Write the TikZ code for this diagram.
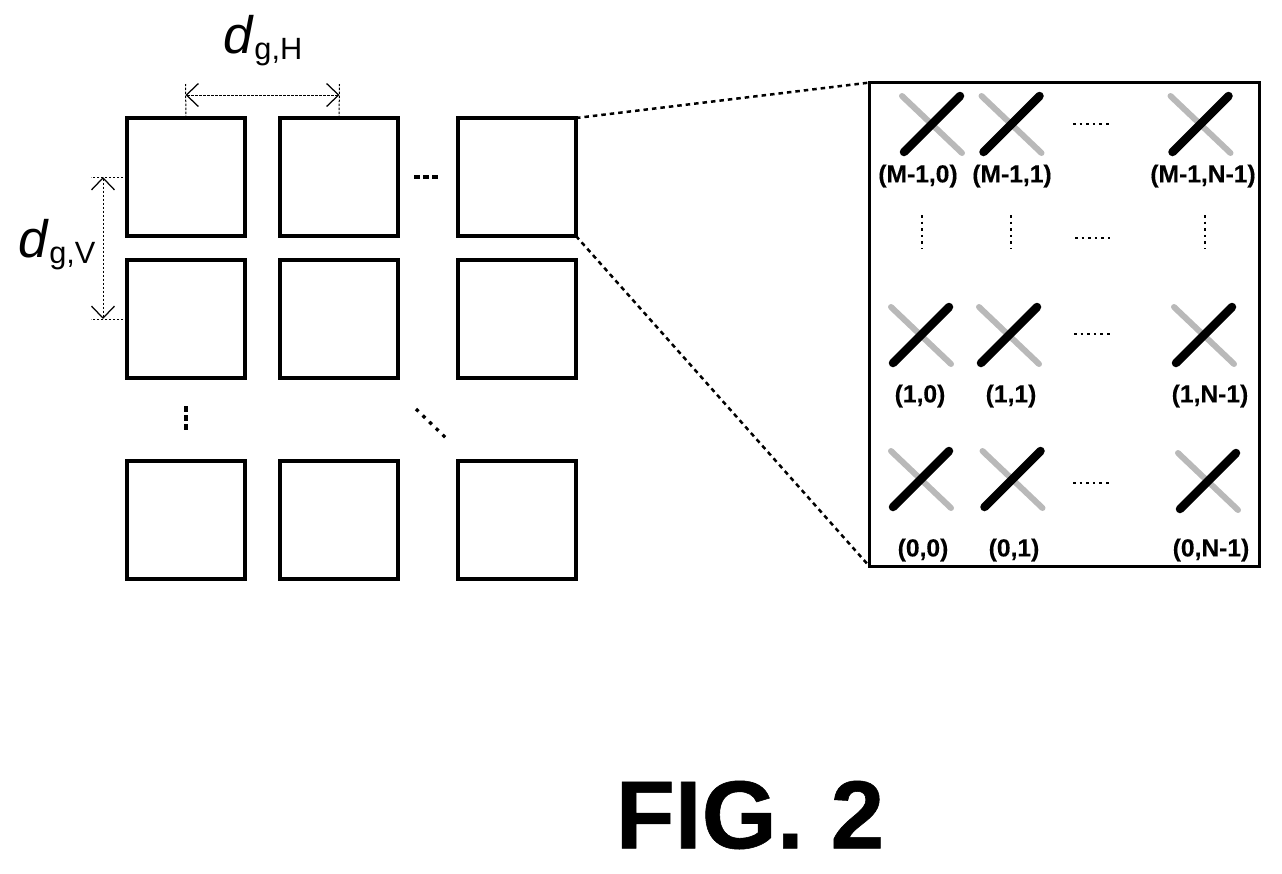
\documentclass[tikz,border=0pt]{standalone}
\usepackage{fontspec}
\setmainfont{Liberation Sans}
\newfontfamily\heavyfont[FakeBold=0.6]{Liberation Sans Bold}
\newfontfamily\labelfont[FakeBold=0.3]{Liberation Sans Bold}
\usetikzlibrary{arrows.meta,calc}
\tikzset{
    tile/.style={draw=black,line width=0.07cm,minimum size=2.36cm,inner sep=0pt,outer sep=0pt},
    panel/.style={draw=black,line width=0.07cm,minimum width=7.8cm,minimum height=9.68cm,inner sep=0pt,outer sep=0pt},
    dim/.style={line width=0.02cm,dash pattern=on 0.05cm off 0.03cm},
    dimtip/.style={dim,{Straight Barb[length=0.24cm,width=0.46cm,line width=0.025cm]}-{Straight Barb[length=0.24cm,width=0.46cm,line width=0.025cm]}},
    leader/.style={line width=0.05cm,dash pattern=on 0.09cm off 0.08cm},
    rowdots/.style={line width=0.07cm,dash pattern=on 0.12cm off 0.065cm},
    coldots/.style={line width=0.08cm,dash pattern=on 0.11cm off 0.07cm},
    diagdots/.style={line width=0.065cm,dash pattern=on 0.07cm off 0.115cm},
    tinydots/.style={line width=0.05cm,dash pattern=on 0.05cm off 0.082cm},
    elemlabel/.style={font=\fontsize{14}{16}\labelfont,inner sep=0pt},
    elem/.pic={
        \draw[gray!55,line width=0.12cm,line cap=round] (-30,-28) -- (30,29);
        \draw[black,line width=0.17cm,line cap=round] (-28,28) -- (28,-28);
    }
}
\newcommand{\bigd}[1]{{\fontsize{30}{30}\selectfont\textit{d}}{\fontsize{17.5}{18}\selectfont\raisebox{-3.4pt}{g,#1}}}
\begin{document}
\begin{tikzpicture}[x=0.02cm,y=-0.02cm]
    \useasboundingbox (0,0) rectangle (1282,873);
    % antenna panels
    \node[tile] (a11) at (186,177) {};
    \node[tile] (a12) at (339,177) {};
    \node[tile] (a13) at (517,177) {};
    \node[tile] (a21) at (186,319) {};
    \node[tile] (a22) at (339,319) {};
    \node[tile] (a23) at (517,319) {};
    \node[tile] (a31) at (186,520) {};
    \node[tile] (a32) at (339,520) {};
    \node[tile] (a33) at (517,520) {};
    % horizontal spacing
    \coordinate (hl) at (185.5,95);
    \coordinate (hr) at (339.5,95);
    \draw[dimtip] (hl) -- (hr);
    \draw[dim] (a11.north) -- (185.5,84);
    \draw[dim] (a12.north) -- (339.5,84);
    \node (dH) at (263,41) {\bigd{H}};
    % vertical spacing
    \coordinate (vt) at (103,177);
    \coordinate (vb) at (103,319);
    \draw[dimtip] (vt) -- (vb);
    \draw[dim] (a11.west) -- (91,177);
    \draw[dim] (a21.west) -- (91,319);
    \node (dV) at (57,245) {\bigd{V}};
    % dots between panels
    \coordinate (d1) at (414,177);
    \coordinate (d2) at (439,177);
    \coordinate (d3) at (186,406);
    \coordinate (d4) at (186,431);
    \coordinate (d5) at (416,409);
    \coordinate (d6) at (446,438);
    \draw[rowdots] (d1) -- (d2);
    \draw[coldots] (d3) -- (d4);
    \draw[diagdots] (d5) -- (d6);
    % enlarged panel
    \node[panel] (zoom) at (1064.5,324.5) {};
    \draw[leader] (a13.north east) -- (zoom.north west);
    \draw[leader] (a13.south east) -- (zoom.south west);
    % elements
    \pic at (932,124) {elem};
    \pic at (1011.5,124) {elem};
    \pic at (1200.5,124) {elem};
    \pic at (921,335) {elem};
    \pic at (1009,335) {elem};
    \pic at (1204,335) {elem};
    \pic at (921,479) {elem};
    \pic at (1012.5,479) {elem};
    \pic at (1208,481) {elem};
    \node[elemlabel] (e1) at (918,176) {(M-1,0)};
    \node[elemlabel] (e2) at (1012,176) {(M-1,1)};
    \node[elemlabel] (e3) at (1203,176) {(M-1,N-1)};
    \node[elemlabel] (e4) at (920,396) {(1,0)};
    \node[elemlabel] (e5) at (1011,396) {(1,1)};
    \node[elemlabel] (e6) at (1210,396) {(1,N-1)};
    \node[elemlabel] (e7) at (923,550) {(0,0)};
    \node[elemlabel] (e8) at (1014,550) {(0,1)};
    \node[elemlabel] (e9) at (1211,550) {(0,N-1)};
    % dots between elements
    \coordinate (h1a) at (1073,124);
    \coordinate (h1b) at (1110,124);
    \coordinate (h2a) at (1075,238);
    \coordinate (h2b) at (1110,238);
    \coordinate (h3a) at (1074,334);
    \coordinate (h3b) at (1110,334);
    \coordinate (h4a) at (1073,483);
    \coordinate (h4b) at (1110,483);
    \draw[tinydots] (h1a) -- (h1b);
    \draw[tinydots] (h2a) -- (h2b);
    \draw[tinydots] (h3a) -- (h3b);
    \draw[tinydots] (h4a) -- (h4b);
    \coordinate (v1a) at (922,215);
    \coordinate (v1b) at (922,249);
    \coordinate (v2a) at (1011,215);
    \coordinate (v2b) at (1011,249);
    \coordinate (v3a) at (1205,215);
    \coordinate (v3b) at (1205,249);
    \draw[tinydots] (v1a) -- (v1b);
    \draw[tinydots] (v2a) -- (v2b);
    \draw[tinydots] (v3a) -- (v3b);
    \node[font=\fontsize{55}{60}\heavyfont] (fig) at (750,815) {FIG. 2};
\end{tikzpicture}
\end{document}
